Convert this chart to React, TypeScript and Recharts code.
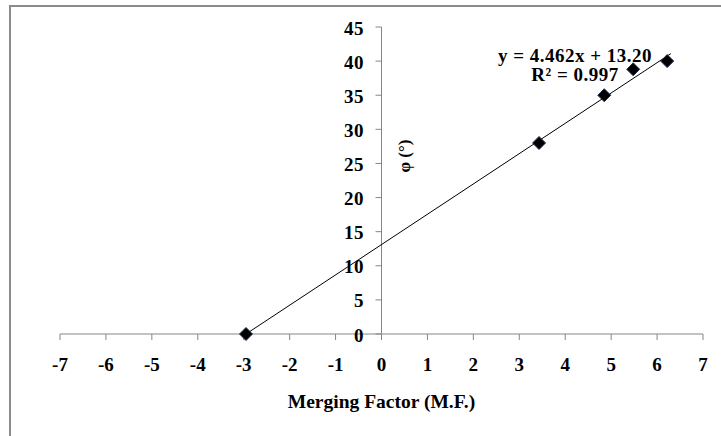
import React from 'react';
import {
  ScatterChart,
  Scatter,
  XAxis,
  YAxis,
  ReferenceLine,
  Label,
} from 'recharts';

// measured values (merging factor vs friction angle)
const mergingFactor = [-2.95, 3.43, 4.85, 5.48, 6.22];
const phiDeg = [0, 28, 35, 38.8, 40];
const xTicks = [-7, -6, -5, -4, -3, -2, -1, 0, 1, 2, 3, 4, 5, 6, 7];
const yTicks = [0, 5, 10, 15, 20, 25, 30, 35, 40, 45];
// trendline ends as drawn: y = 4.462x + 13.20
const trendX = [-2.95, 6.3];
const trendY = [0, 41.1];
const equationText = 'y = 4.462x + 13.20';
const r2Text = 'R² = 0.997';

const points = mergingFactor.map((x, i) => ({ x, y: phiDeg[i] }));
const trendLine = trendX.map((x, i) => ({ x, y: trendY[i] }));

const WIDTH = 721;
const HEIGHT = 436;
const MARGIN = { top: 27, right: 18, bottom: 22, left: 59 };
const Y_AXIS_WIDTH = 1;
const AXIS_COLOR = '#868686';
const FONT = '"Liberation Serif", "Times New Roman", serif';
// y axis crosses at x = 0, the middle of the plot
const PLOT_LEFT = MARGIN.left + Y_AXIS_WIDTH;
const Y_AXIS_X = PLOT_LEFT + (WIDTH - PLOT_LEFT - MARGIN.right) / 2;

const renderYTick = (props: { y?: number; payload?: { value: number } }) => {
  const { y, payload } = props;
  return (
    <g key={`ytick-${payload?.value}`}>
      <line x1={Y_AXIS_X - 6} y1={y} x2={Y_AXIS_X} y2={y} stroke={AXIS_COLOR} />
      <text
        x={Y_AXIS_X - 17.5}
        y={y}
        dy="0.4em"
        textAnchor="end"
        fontFamily={FONT}
        fontWeight="bold"
        fontSize={19}
        letterSpacing={0.5}
        fill="#000"
      >
        {payload?.value}
      </text>
    </g>
  );
};

const Diamond = ({ cx, cy }: { cx?: number; cy?: number }) => {
  if (cx == null || cy == null) return <g />;
  const r = 6.5;
  return (
    <polygon
      points={`${cx},${cy - r} ${cx + r},${cy} ${cx},${cy + r} ${cx - r},${cy}`}
      fill="#000"
      stroke="#1f2f4f"
      strokeWidth={1}
    />
  );
};

export default function App() {
  return (
    <div style={{ position: 'absolute', left: 0, top: 0, width: WIDTH, height: HEIGHT, background: '#fff' }}>
      <div
        style={{
          position: 'absolute',
          left: 9,
          top: 5,
          right: 0,
          bottom: 0,
          borderTop: '2px solid #8c8c8c',
          borderLeft: '2px solid #8c8c8c',
        }}
      />
      <div style={{ position: 'absolute', left: 0, top: 0 }}>
        <ScatterChart width={WIDTH} height={HEIGHT} margin={MARGIN}>
          <XAxis
            type="number"
            dataKey="x"
            domain={[-7, 7]}
            ticks={xTicks}
            interval={0}
            allowDataOverflow
            height={80}
            stroke={AXIS_COLOR}
            tickSize={6}
            tickMargin={18}
            tick={{ fill: '#000', fontFamily: FONT, fontWeight: 'bold', fontSize: 19 }}
          >
            <Label
              value="Merging Factor (M.F.)"
              position="insideBottom"
              offset={6}
              style={{ fill: '#000', fontFamily: FONT, fontWeight: 'bold', fontSize: 19.5 }}
            />
          </XAxis>
          <YAxis
            type="number"
            dataKey="y"
            domain={[0, 45]}
            ticks={yTicks}
            interval={0}
            width={Y_AXIS_WIDTH}
            axisLine={false}
            tickLine={false}
            tick={renderYTick}
          />
          <ReferenceLine x={0} stroke={AXIS_COLOR} />
          <Scatter
            data={trendLine}
            line={{ stroke: '#000', strokeWidth: 1 }}
            shape={() => <g />}
            isAnimationActive={false}
          />
          <Scatter data={points} shape={<Diamond />} isAnimationActive={false} />
        </ScatterChart>
      </div>
      <div
        style={{
          position: 'absolute',
          left: 475,
          top: 46,
          width: 200,
          textAlign: 'center',
          fontFamily: FONT,
          fontWeight: 'bold',
          fontSize: 19,
          letterSpacing: 0.5,
          lineHeight: '19px',
          color: '#000',
        }}
      >
        <div>{equationText}</div>
        <div>{r2Text}</div>
      </div>
      <div
        style={{
          position: 'absolute',
          left: 405,
          top: 156,
          transform: 'translate(-50%, -50%) rotate(-90deg)',
          fontFamily: FONT,
          fontWeight: 'bold',
          fontSize: 17,
          whiteSpace: 'nowrap',
          color: '#000',
        }}
      >
        φ (°)
      </div>
    </div>
  );
}
